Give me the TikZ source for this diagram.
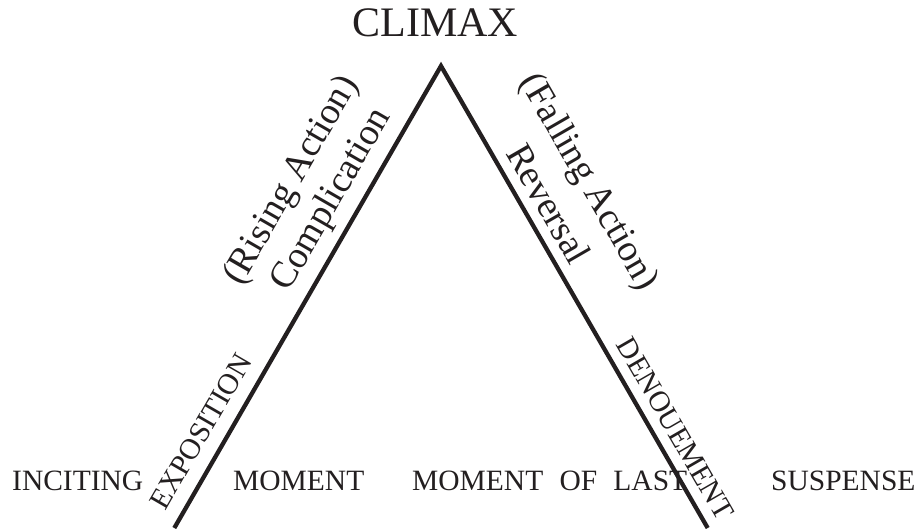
\documentclass[tikz,border=0pt]{standalone}
\usepackage{fontspec}
\setmainfont{Liberation Serif}
\definecolor{ink}{HTML}{231F20}
\begin{document}
\begin{tikzpicture}[x=1pt,y=-1pt,
  big/.style={inner sep=0pt, text=ink, font=\fontsize{42}{48}\selectfont},
  slant/.style={inner sep=0pt, text=ink, font=\fontsize{37.5}{44}\selectfont},
  small/.style={inner sep=0pt, text=ink, font=\fontsize{29.5}{34}\selectfont},
  edge/.style={draw=ink, line width=4.3pt, line join=miter, line cap=butt}]
\useasboundingbox (0,0) rectangle (921,529);
\coordinate (A) at (441,66);
\coordinate (BL) at (174.3,528);
\coordinate (BR) at (707.7,528);
\draw[edge] (BL) -- (A) -- (BR);
\node[big, anchor=base] (climax) at (435.5,37) {CLIMAX};
\node[slant, rotate=60] (rising) at (292,181) {(Rising Action)};
\node[slant, rotate=60] (compl) at (332,200) {Complication};
\node[slant, rotate=-60] (falling) at (587.5,182.5) {(Falling Action)};
\node[slant, rotate=-60] (rev) at (549,203.5) {Reversal};
\node[small, rotate=60] (expo) at (201,431.5) {EXPOSITION};
\node[small, rotate=-60] (denoue) at (675.5,428.5) {DENOUEMENT};
\node[small, anchor=base west] (inciting) at (12,490) {INCITING};
\node[small, anchor=base west] (moment) at (233,490) {MOMENT};
\node[small, anchor=base west] (molast) at (412,490) {MOMENT\hspace{0.55em}OF\hspace{0.55em}LAST};
\node[small, anchor=base west] (susp) at (771,490) {SUSPENSE};
\end{tikzpicture}
\end{document}
